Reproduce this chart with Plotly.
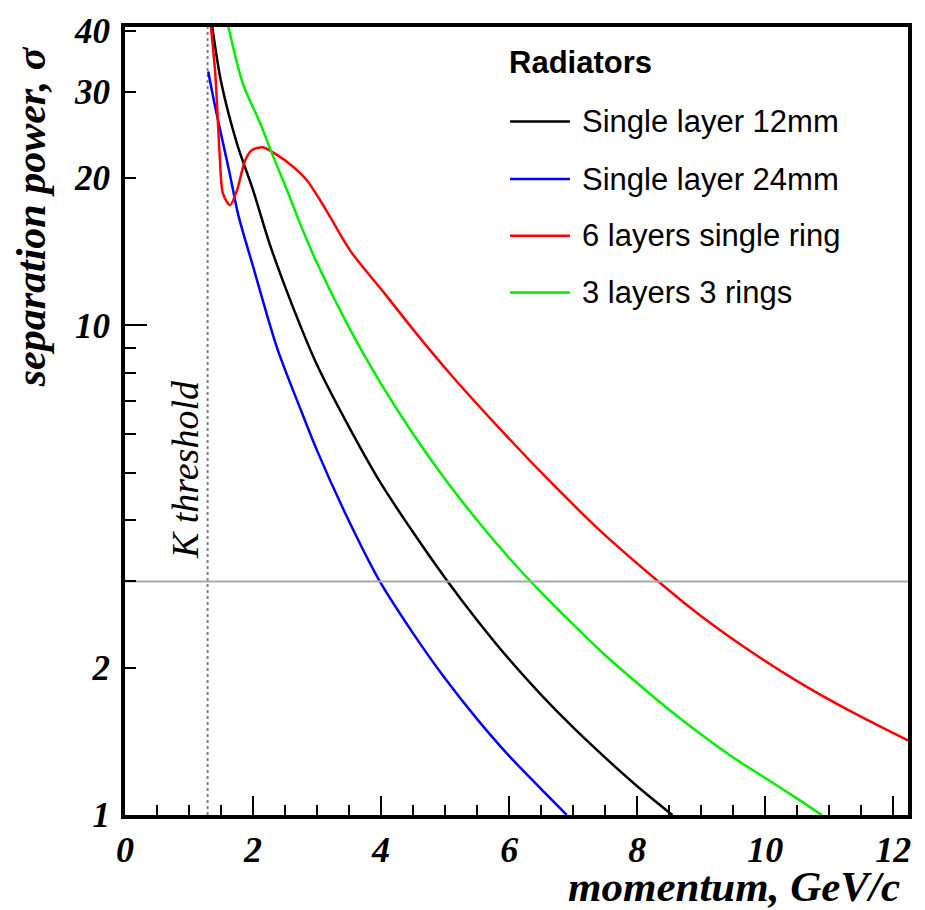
import plotly.graph_objects as go

# ---- data ----
p_12mm = [1.36, 1.5, 1.75, 2.0, 2.25, 2.5, 2.75, 3.0, 3.5, 4.0, 4.5, 5.0, 5.5, 6.0, 6.5, 7.0, 7.5, 8.0, 8.55]
s_12mm = [41.0, 31.5, 23.5, 18.9, 14.8, 12.0, 9.9, 8.3, 6.2, 4.75, 3.78, 3.05, 2.50, 2.08, 1.76, 1.51, 1.31, 1.145, 1.0]

p_24mm = [1.30, 1.4, 1.5, 1.64, 1.77, 2.0, 2.375, 2.75, 3.0, 3.5, 3.98, 4.5, 5.0, 5.5, 6.0, 6.5, 6.9]
s_24mm = [33.0, 28.3, 24.6, 20.3, 16.8, 13.2, 9.0, 6.7, 5.55, 3.98, 3.0, 2.35, 1.9, 1.57, 1.32, 1.13, 1.0]

p_6layers = [1.34, 1.41, 1.48, 1.53, 1.64, 1.75, 1.875, 1.98, 2.16, 2.375, 2.625, 2.84, 3.05, 3.2,
             3.52, 4.06, 4.53, 5.08, 5.86, 6.64, 7.42, 8.33, 8.98, 9.77, 10.55, 11.33, 12.23]
s_6layers = [41.0, 32.7, 22.2, 18.6, 17.6, 18.9, 21.7, 22.8, 23.1, 22.3, 21.1, 19.8, 18.0, 16.7,
             14.2, 11.6, 9.7, 7.96, 6.14, 4.80, 3.81, 3.0, 2.56, 2.16, 1.86, 1.63, 1.42]

p_3layers = [1.61, 1.84, 2.11, 2.31, 2.53, 2.73, 3.0, 3.5, 4.0, 4.5, 5.0, 5.5, 6.0, 6.5, 7.0, 7.5,
             8.0, 8.5, 9.0, 9.5, 10.0, 10.5, 10.88]
s_3layers = [41.0, 31.2, 25.9, 22.2, 18.9, 16.2, 13.4, 9.9, 7.6, 6.0, 4.85, 4.0, 3.35, 2.85, 2.45, 2.12,
             1.86, 1.64, 1.46, 1.31, 1.19, 1.08, 1.0]

series_names = ["Single layer 12mm", "Single layer 24mm", "6 layers single ring", "3 layers 3 rings"]
series_colors = ["#000000", "#0000ff", "#ff0000", "#00ee00"]

k_threshold = 1.29
sigma_level = 3
x_range = [0, 12.23]

x_ticks = [0, 2, 4, 6, 8, 10, 12]
y_ticks = [1, 2, 10, 20, 30, 40]
y_minor = [3, 4, 5, 6, 7, 8, 9]

# ---- figure ----
fig = go.Figure()

fig.add_trace(go.Scatter(x=[k_threshold, k_threshold], y=[1, 50], mode="lines",
                         line=dict(color="#808080", width=2, dash="dot"),
                         showlegend=False, hoverinfo="skip"))
fig.add_trace(go.Scatter(x=x_range, y=[sigma_level, sigma_level], mode="lines",
                         line=dict(color="#a8a8a8", width=2),
                         showlegend=False, hoverinfo="skip", yaxis="y2"))

for px, sy, name, col in zip([p_12mm, p_24mm, p_6layers, p_3layers],
                             [s_12mm, s_24mm, s_6layers, s_3layers],
                             series_names, series_colors):
    fig.add_trace(go.Scatter(x=px, y=sy, mode="lines", name=name,
                             line=dict(color=col, width=2.5, shape="spline", smoothing=0.8),
                             showlegend=False))

serif_bi = dict(family="Liberation Serif", color="black", weight="bold", style="italic")

fig.update_layout(
    width=925, height=910,
    margin=dict(l=125, r=17, t=23, b=95),
    paper_bgcolor="white", plot_bgcolor="white",
    xaxis=dict(range=x_range, tickvals=x_ticks, ticks="inside", ticklen=19, tickwidth=2,
               tickcolor="black",
               minor=dict(dtick=0.5, tick0=0, ticks="inside", ticklen=10, tickwidth=2,
                          tickcolor="black", showgrid=False),
               showline=True, linewidth=4, linecolor="black", mirror=True,
               showgrid=False, zeroline=False,
               tickfont=dict(size=36, **serif_bi)),
    yaxis=dict(type="log", range=[0, 1.6096], tickvals=y_ticks,
               ticktext=[str(v) for v in y_ticks],
               ticks="inside", ticklen=11, tickwidth=2, tickcolor="black",
               minor=dict(tickvals=y_minor, ticks="inside", ticklen=11, tickwidth=2,
                          tickcolor="black", showgrid=False),
               showline=True, linewidth=4, linecolor="black", mirror=True,
               showgrid=False, zeroline=False, ticklabelstandoff=4,
               tickfont=dict(size=35, **serif_bi)),
    yaxis2=dict(type="log", range=[0, 1.6096], overlaying="y", side="left", anchor="x",
                tickvals=[10], ticks="inside", ticklen=22, tickwidth=2, tickcolor="black",
                showticklabels=False, showline=False, showgrid=False, zeroline=False),
)

annotations = [
    dict(text="momentum, GeV/c", xref="paper", yref="paper", x=0.9923, y=-0.0905,
         xanchor="right", yanchor="middle", showarrow=False, font=dict(size=43, **serif_bi)),
    dict(text="separation power, σ", xref="paper", yref="paper", x=-0.1200, y=0.7585,
         xanchor="center", yanchor="middle", textangle=-90, showarrow=False,
         font=dict(size=42, **serif_bi)),
    dict(text="K threshold", xref="paper", yref="paper", x=0.0766, y=0.439,
         xanchor="center", yanchor="middle", textangle=-90, showarrow=False,
         font=dict(size=38, family="Liberation Serif", style="italic", color="black")),
    dict(text="Radiators", xref="paper", yref="paper", x=0.488, y=0.9545,
         xanchor="left", yanchor="middle", showarrow=False,
         font=dict(size=31, family="Liberation Sans", weight="bold", color="black")),
]

legend_rows = [0.880, 0.807, 0.735, 0.663]
shapes = []
for name, col, yy in zip(series_names, series_colors, legend_rows):
    shapes.append(dict(type="line", xref="paper", yref="paper", x0=0.4917, x1=0.5683,
                       y0=yy, y1=yy, line=dict(color=col, width=2.5)))
    annotations.append(dict(text=name, xref="paper", yref="paper", x=0.581, y=yy,
                            xanchor="left", yanchor="middle", showarrow=False,
                            font=dict(size=31, family="Liberation Sans", color="black")))

fig.update_layout(annotations=annotations, shapes=shapes)

fig.write_html("out.html")
